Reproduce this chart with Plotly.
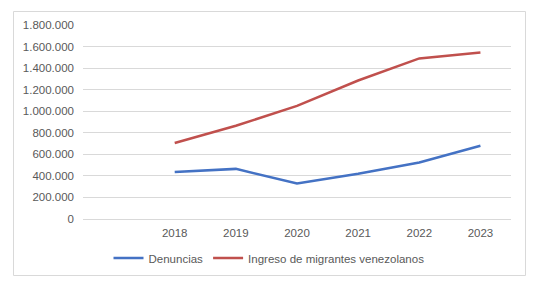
import plotly.graph_objects as go

years = [2018, 2019, 2020, 2021, 2022, 2023]
denuncias = [435000, 465000, 330000, 420000, 525000, 680000]
ingreso = [705000, 865000, 1050000, 1285000, 1490000, 1545000]
y_ticks = [0, 200000, 400000, 600000, 800000, 1000000, 1200000, 1400000, 1600000, 1800000]

W, H = 535, 282
L, R, T, B = 83, 24, 25, 63
pw, ph = W - L - R, H - T - B
FS = 11.5

def px(x):
    return (x - L) / pw

def py(y):
    return (H - B - y) / ph

fig = go.Figure()
fig.add_trace(go.Scatter(x=years, y=denuncias, mode="lines", name="Denuncias",
                         line=dict(color="#4472C4", width=2.5)))
fig.add_trace(go.Scatter(x=years, y=ingreso, mode="lines", name="Ingreso de migrantes venezolanos",
                         line=dict(color="#C0504D", width=2.5)))

fig.add_shape(type="rect", xref="paper", yref="paper",
              x0=px(13.5), x1=px(525.5), y0=py(275.5), y1=py(11.5),
              line=dict(color="#d9d9d9", width=1), fillcolor="rgba(0,0,0,0)", layer="below")

fig.update_layout(
    width=W, height=H,
    margin=dict(l=L, r=R, t=T, b=B, autoexpand=False),
    paper_bgcolor="white", plot_bgcolor="white",
    separators=",.",
    font=dict(family="Liberation Sans, Arial, sans-serif", size=FS, color="#595959"),
    showlegend=True,
    legend=dict(orientation="h", x=px(269), xanchor="center", y=py(258), yanchor="middle",
                font=dict(size=FS, color="#595959"), itemwidth=30, tracegroupgap=0,
                bgcolor="rgba(0,0,0,0)"),
    xaxis=dict(range=[2016.5, 2023.5], tickvals=years, ticktext=[str(y) for y in years],
               showgrid=False, zeroline=False, showline=False, ticks="", automargin=False,
               ticklabelstandoff=5, tickfont=dict(size=FS, color="#595959")),
    yaxis=dict(range=[0, 1800000], tickvals=y_ticks, tickformat=",d", automargin=False,
               showgrid=True, gridcolor="#d9d9d9", gridwidth=1,
               zeroline=True, zerolinecolor="#d9d9d9", zerolinewidth=1,
               showline=False, ticks="", ticklabelstandoff=8,
               tickfont=dict(size=FS, color="#595959")),
)

fig.write_html("out.html", config={"displayModeBar": False},
               post_script="document.body.style.margin='0';document.body.style.overflow='hidden';")
